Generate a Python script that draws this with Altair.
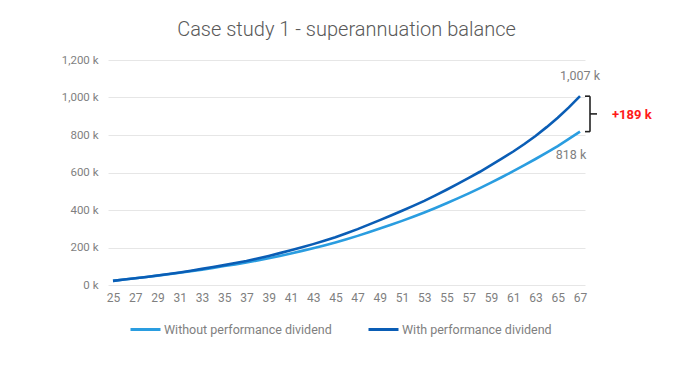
import altair as alt
import pandas as pd

ages = list(range(25, 68))
without_pd = [22, 29, 36, 43, 50, 57, 65, 73, 82, 91, 101, 110, 120, 131, 143, 155, 168, 182, 196, 211,
              227, 244, 262, 281, 301, 321, 342, 364, 387, 411, 436, 462, 489, 517, 546, 576, 607, 639,
              672, 706, 741, 779, 818]
with_pd = [22, 29, 36, 43, 51, 59, 67, 76, 86, 96, 106, 117, 128, 141, 155, 170, 185, 201, 218, 236,
           255, 276, 298, 322, 346, 371, 396, 422, 449, 478, 508, 539, 571, 604, 639, 675, 712, 752,
           795, 842, 892, 947, 1007]
series_names = ["Without performance dividend", "With performance dividend"]
series_colors = ["#2a9de0", "#0a5db5"]
y_ticks = [0, 200, 400, 600, 800, 1000, 1200]
x_ticks = list(range(25, 68, 2))

rows = []
for name, vals in zip(series_names, [without_pd, with_pd]):
    for a, v in zip(ages, vals):
        rows.append({"age": a, "value": v, "series": name})
df = pd.DataFrame(rows)

FONT = "Roboto"
GREY = "#7f7f7f"

x_scale = alt.Scale(domain=[24.55, 67.45], nice=False, zero=False)
y_scale = alt.Scale(domain=[0, 1200], nice=False)

x_axis = alt.Axis(values=x_ticks, title=None, grid=False, ticks=False, domain=False,
                  labelOverlap=False, labelFlush=False,
                  labelColor=GREY, labelFontSize=12, labelPadding=7, labelFont=FONT)
y_axis = alt.Axis(values=y_ticks, title=None, ticks=False, domain=False,
                  labelOverlap=False, labelFlush=False,
                  labelExpr="format(datum.value, ',') + ' k'",
                  labelColor=GREY, labelFontSize=11.5, labelPadding=10, labelFont=FONT,
                  gridColor="#e6e6e6", gridWidth=1)


def X(field):
    return alt.X(field, scale=x_scale, axis=x_axis, title=None)


def Y(field):
    return alt.Y(field, scale=y_scale, axis=y_axis, title=None)


lines = alt.Chart(df).mark_line(strokeWidth=2.6).encode(
    x=X("age:Q"),
    y=Y("value:Q"),
    color=alt.Color("series:N", sort=series_names,
                    scale=alt.Scale(domain=series_names, range=series_colors),
                    legend=alt.Legend(title=None, orient="none", legendX=21, legendY=253,
                                      direction="horizontal", columns=2, columnPadding=30,
                                      symbolType="stroke", symbolSize=900, symbolStrokeWidth=3,
                                      labelFontSize=12.5, labelColor=GREY, labelFont=FONT,
                                      labelOffset=2, labelLimit=0)),
)

end_df = pd.DataFrame({
    "age": [ages[-1], ages[-1]],
    "value": [with_pd[-1], without_pd[-1]],
    "label": [f"{with_pd[-1]:,} k", f"{without_pd[-1]:,} k"],
})

top_label = alt.Chart(end_df.iloc[[0]]).mark_text(
    font=FONT, fontSize=12.5, color=GREY, dy=-20, baseline="middle", align="center"
).encode(x=X("age:Q"), y=Y("value:Q"), text="label:N")

bot_label = alt.Chart(end_df.iloc[[1]]).mark_text(
    font=FONT, fontSize=12.5, color=GREY, dy=23, dx=-9, baseline="middle", align="center"
).encode(x=X("age:Q"), y=Y("value:Q"), text="label:N")

diff = with_pd[-1] - without_pd[-1]
br_df = pd.DataFrame({"top": [with_pd[-1]], "bottom": [without_pd[-1]],
                      "mid": [(with_pd[-1] + without_pd[-1]) / 2], "label": [f"+{diff} k"]})

BR = "#222222"
bracket_v = alt.Chart(br_df).mark_rule(color=BR, strokeWidth=1.6).encode(
    x=alt.value(482), y=Y("top:Q"), y2="bottom:Q")
bracket_t = alt.Chart(br_df).mark_rule(color=BR, strokeWidth=1.6).encode(
    x=alt.value(477), x2=alt.value(482), y=Y("top:Q"))
bracket_b = alt.Chart(br_df).mark_rule(color=BR, strokeWidth=1.6).encode(
    x=alt.value(477), x2=alt.value(482), y=Y("bottom:Q"))
bracket_m = alt.Chart(br_df).mark_rule(color=BR, strokeWidth=1.6).encode(
    x=alt.value(482), x2=alt.value(489), y=Y("mid:Q"))
diff_label = alt.Chart(br_df).mark_text(
    font=FONT, fontSize=13, fontWeight="bold", color="#ff1a1a", align="left", baseline="middle", dy=1
).encode(x=alt.value(504), y=Y("mid:Q"), text="label:N")

chart = alt.layer(lines, top_label, bot_label, bracket_v, bracket_t, bracket_b, bracket_m, diff_label).properties(
    width=477, height=225,
    title=alt.Title("Case study 1 - superannuation balance", fontSize=20, fontWeight=300,
                    color="#595959", font=FONT, anchor="middle", offset=14),
    autosize=alt.AutoSizeParams(type="none"),
    padding={"left": 100, "top": 52, "right": 83, "bottom": 73},
).configure_view(stroke=None).configure_axis(labelOverlap=False)

chart.save("out.html", embed_options={"renderer": "svg", "actions": False})
